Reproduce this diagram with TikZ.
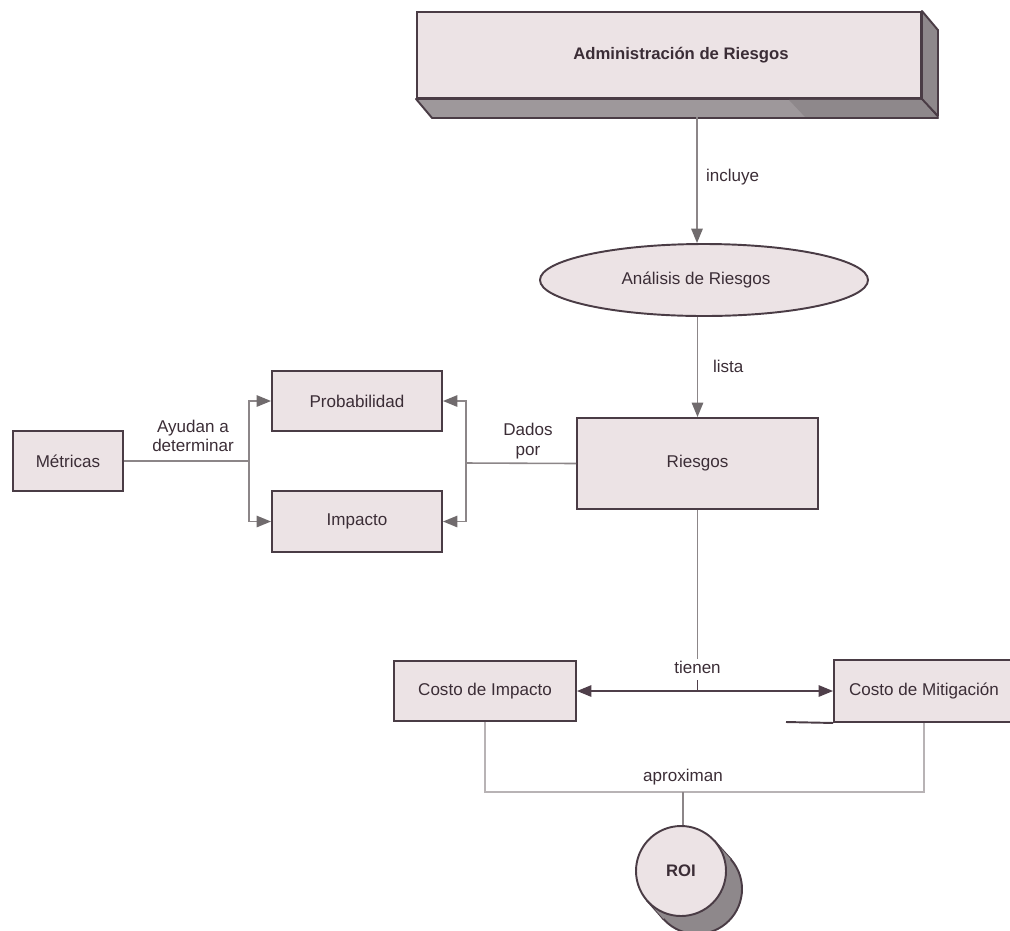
\documentclass[tikz,border=0pt]{standalone}
\usepackage{fontspec}
\setmainfont{Liberation Sans}
\usetikzlibrary{arrows.meta,shapes.geometric,calc}
\definecolor{boxfill}{HTML}{ECE3E5}
\definecolor{boxline}{HTML}{4A3C45}
\definecolor{inkc}{HTML}{3B2D36}
\definecolor{connc}{HTML}{8C8688}
\definecolor{lightc}{HTML}{B8B3B5}
\definecolor{tipc}{HTML}{4F3F4A}
\definecolor{sidec}{HTML}{8E888B}
\definecolor{bottomc}{HTML}{9E989B}
\tikzset{
  txt/.style={font=\fontsize{9.7}{12.5}\selectfont, text=inkc, align=center},
  boxn/.style={txt, draw=boxline, fill=boxfill, line width=1.1pt, inner sep=0pt},
  conn/.style={draw=connc, line width=0.9pt},
  lightconn/.style={draw=lightc, line width=1.2pt},
  greytip/.style={-{Triangle[length=2.9mm,width=2.3mm,color=connc!80!black]}},
  darktip/.style={-{Triangle[length=2.9mm,width=2.3mm,color=tipc]}},
  lbl/.style={txt, inner sep=1pt}
}
\begin{document}
\begin{tikzpicture}[x=0.2mm,y=-0.2mm]
\useasboundingbox (0,0) rectangle (1010,930);
\clip (0,0) rectangle (1010,930);

% raised block at the top
\node[boxn, minimum width=100.8mm, minimum height=17.2mm, font=\bfseries\fontsize{9.5}{12}\selectfont]
  (adm) at (669,55) {\hspace*{4.8mm}Administración de Riesgos};
\filldraw[fill=bottomc, draw=boxline, line width=1.1pt, line join=round]
  (adm.south west) -- ++(16,19) -- ($(adm.south east)+(16,19)$) -- (adm.south east) -- cycle;
\fill[sidec] ($(adm.south)+(120,1)$) -- ($(adm.south east)+(0,1)$) -- ($(adm.south east)+(15,18)$) -- ($(adm.south)+(136,18)$) -- cycle;
\filldraw[fill=sidec, draw=boxline, line width=1.1pt, line join=round]
  (adm.north east) -- ++(16,19) -- ++(0,86) -- (adm.south east) -- cycle;
\coordinate (inc) at (697,117);

% ellipse
\node[txt, ellipse, draw=boxline, fill=boxfill, line width=1.1pt, inner sep=0pt,
  minimum width=65.6mm, minimum height=14.4mm] (ana) at (704,280) {\hspace*{-3.2mm}Análisis de Riesgos};

% boxes
\node[boxn, minimum width=48.2mm, minimum height=18.2mm] (ries) at (697.5,463.5) {Riesgos};
\node[boxn, minimum width=22mm, minimum height=12mm] (met) at (68,461) {Métricas};
\node[boxn, minimum width=34mm, minimum height=12mm] (prob) at (357,401) {Probabilidad};
\node[boxn, minimum width=34mm, minimum height=12.2mm] (imp) at (357,521.5) {Impacto};
\node[boxn, minimum width=36.4mm, minimum height=12mm] (ci) at (485,691) {Costo de Impacto};
\node[boxn, minimum width=36mm, minimum height=12.4mm] (cm) at (924,691) {Costo de Mitigación};
\coordinate (cmleft) at (786,722);
\draw[boxline, line width=1.1pt] (cmleft) -- (cm.south west);

% ROI with its shadow
\coordinate (roic) at (681,871);
\coordinate (roib) at ($(roic)+(16,18)$);
\filldraw[fill=sidec, draw=boxline, line width=1.1pt]
  ($(roic)+(33.6,-29.9)$) -- ($(roib)+(33.6,-29.9)$) -- ($(roib)+(-33.6,29.9)$) -- ($(roic)+(-33.6,29.9)$) -- cycle;
\filldraw[fill=sidec, draw=boxline, line width=1.1pt] (roib) circle[radius=9mm];
\fill[sidec] ($(roic)+(33.6,-29.9)$) -- ($(roib)+(33.6,-29.9)$) -- ($(roib)+(-33.6,29.9)$) -- ($(roic)+(-33.6,29.9)$) -- cycle;
\node[boxn, circle, minimum size=18mm, font=\bfseries\fontsize{9.5}{12}\selectfont] (roi) at (roic) {ROI};

% connectors
\draw[conn, greytip] (inc) -- (inc |- ana.north);
\node[lbl, anchor=west] (linc) at (704,177) {incluye};

\draw[conn, greytip] (ries.north |- ana.south) -- (ries.north);
\node[lbl, anchor=west] (llis) at (711,366) {lista};

\coordinate (ayu) at (249,461);
\draw[conn] (met.east) -- (ayu);
\draw[conn, greytip] (ayu) |- (prob.west);
\draw[conn, greytip] (ayu) |- (imp.west);
\node[lbl, font=\fontsize{9.7}{11}\selectfont] (layu) at (193,436) {Ayudan a\\determinar};

\coordinate (dad) at (466,463);
\draw[conn] (ries.west) -- (dad);
\draw[conn, greytip] (dad) |- (prob.east);
\draw[conn, greytip] (dad) |- (imp.east);
\node[lbl, font=\fontsize{9.7}{11}\selectfont] (ldad) at (528,441) {Dados\\por};

% "tienen": the stem stops above its label, a short tick joins the arrow line
\node[lbl] (lten) at (697.5,667) {tienen};
\coordinate (tj) at (697.5,691);
\coordinate (ttop) at (697.5,680);
\draw[conn] (ries.south) -- (lten.north);
\draw[tipc, line width=0.9pt] (ttop) -- (tj);
\draw[tipc, line width=0.9pt, darktip] (tj) -- (ci.east);
\draw[tipc, line width=0.9pt, darktip] (tj) -- (cm.west);

\coordinate (apx) at (683,792);
\draw[lightconn] (ci.south) |- (apx) -| (cm.south);
\draw[conn] (apx) -- (apx |- roi.north);
\node[lbl] (lapx) at (683,777) {aproximan};
\end{tikzpicture}
\end{document}
